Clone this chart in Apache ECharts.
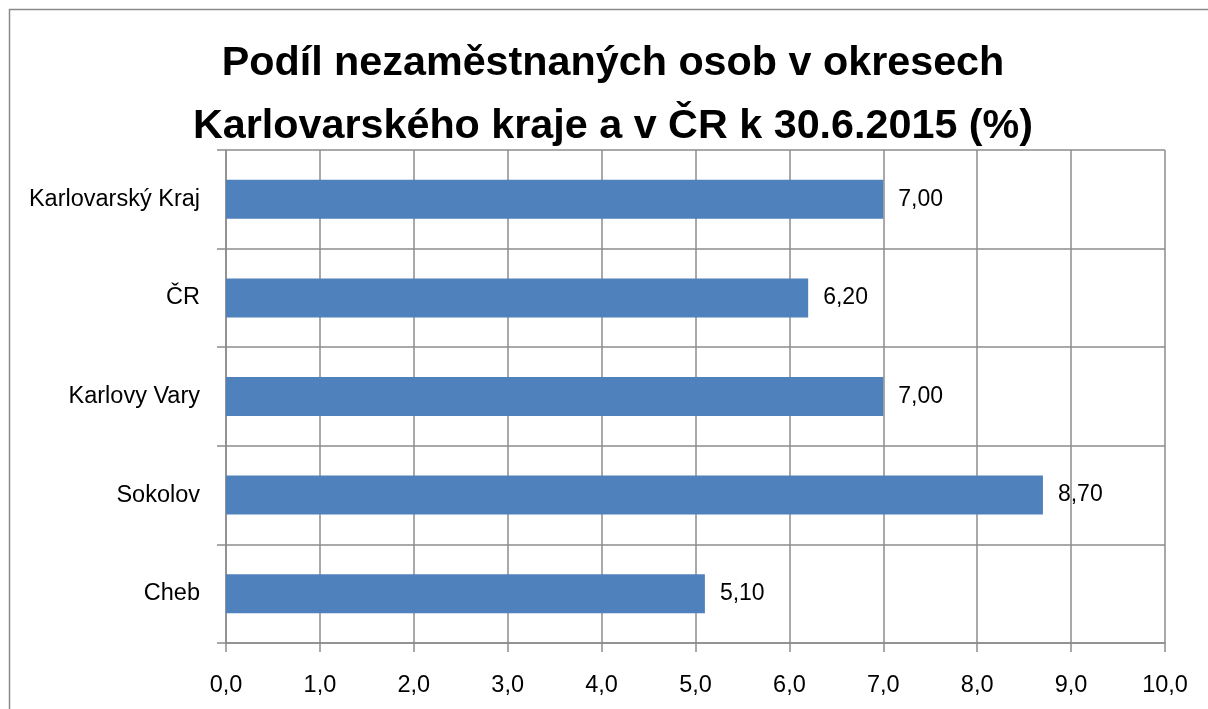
<!DOCTYPE html>
<html>
<head>
<meta charset="utf-8">
<script src="https://cdn.jsdelivr.net/npm/echarts@6/dist/echarts.min.js"></script>
<style>html,body{margin:0;padding:0;background:#fff}#c{width:1208px;height:709px}</style>
</head>
<body>
<div id="c"></div>
<script>
const categories = ['Karlovarský Kraj', 'ČR', 'Karlovy Vary', 'Sokolov', 'Cheb'];
const values = [7.00, 6.20, 7.00, 8.70, 5.10];
const titleText = 'Podíl nezaměstnaných osob v okresech\nKarlovarského kraje a v ČR k 30.6.2015 (%)';

const FONT = 'Liberation Sans';
const GRID = '#8c8c8c';
const chart = echarts.init(document.getElementById('c'));
chart.setOption({
  animation: false,
  backgroundColor: '#fff',
  title: {
    text: titleText,
    left: 608,
    textAlign: 'center',
    top: 27,
    textStyle: { fontFamily: FONT, fontWeight: 'bold', fontSize: 41.3, lineHeight: 63, color: '#000' }
  },
  graphic: [{
    type: 'rect',
    shape: { x: 9.5, y: 9.5, width: 1220, height: 720 },
    style: { fill: 'none', stroke: '#8a8a8a', lineWidth: 1.5 },
    silent: true
  }],
  grid: { left: 226, right: 43, top: 150, bottom: 66, containLabel: false },
  xAxis: {
    type: 'value', min: 0, max: 10, interval: 1,
    axisLine: { show: true, lineStyle: { color: GRID, width: 1.5 } },
    axisTick: { show: true, length: 9, lineStyle: { color: GRID, width: 1.5 } },
    splitLine: { show: true, lineStyle: { color: GRID, width: 1.5 } },
    axisLabel: {
      margin: 31, fontFamily: FONT, fontSize: 23.5, color: '#000',
      formatter: v => v.toFixed(1).replace('.', ',')
    }
  },
  yAxis: {
    type: 'category', data: categories, inverse: true,
    axisLine: { show: true, lineStyle: { color: GRID, width: 1.5 } },
    axisTick: { show: true, length: 9, lineStyle: { color: GRID, width: 1.5 } },
    splitLine: { show: true, lineStyle: { color: GRID, width: 1.5 } },
    axisLabel: { margin: 26, fontFamily: FONT, fontSize: 23.5, color: '#000' }
  },
  series: [{
    type: 'bar', data: values, barWidth: 39,
    itemStyle: { color: '#4f81bd' },
    label: {
      show: true, position: 'right', distance: 15,
      fontFamily: FONT, fontSize: 23, color: '#000',
      formatter: p => p.value.toFixed(2).replace('.', ',')
    }
  }]
});
</script>
</body>
</html>
